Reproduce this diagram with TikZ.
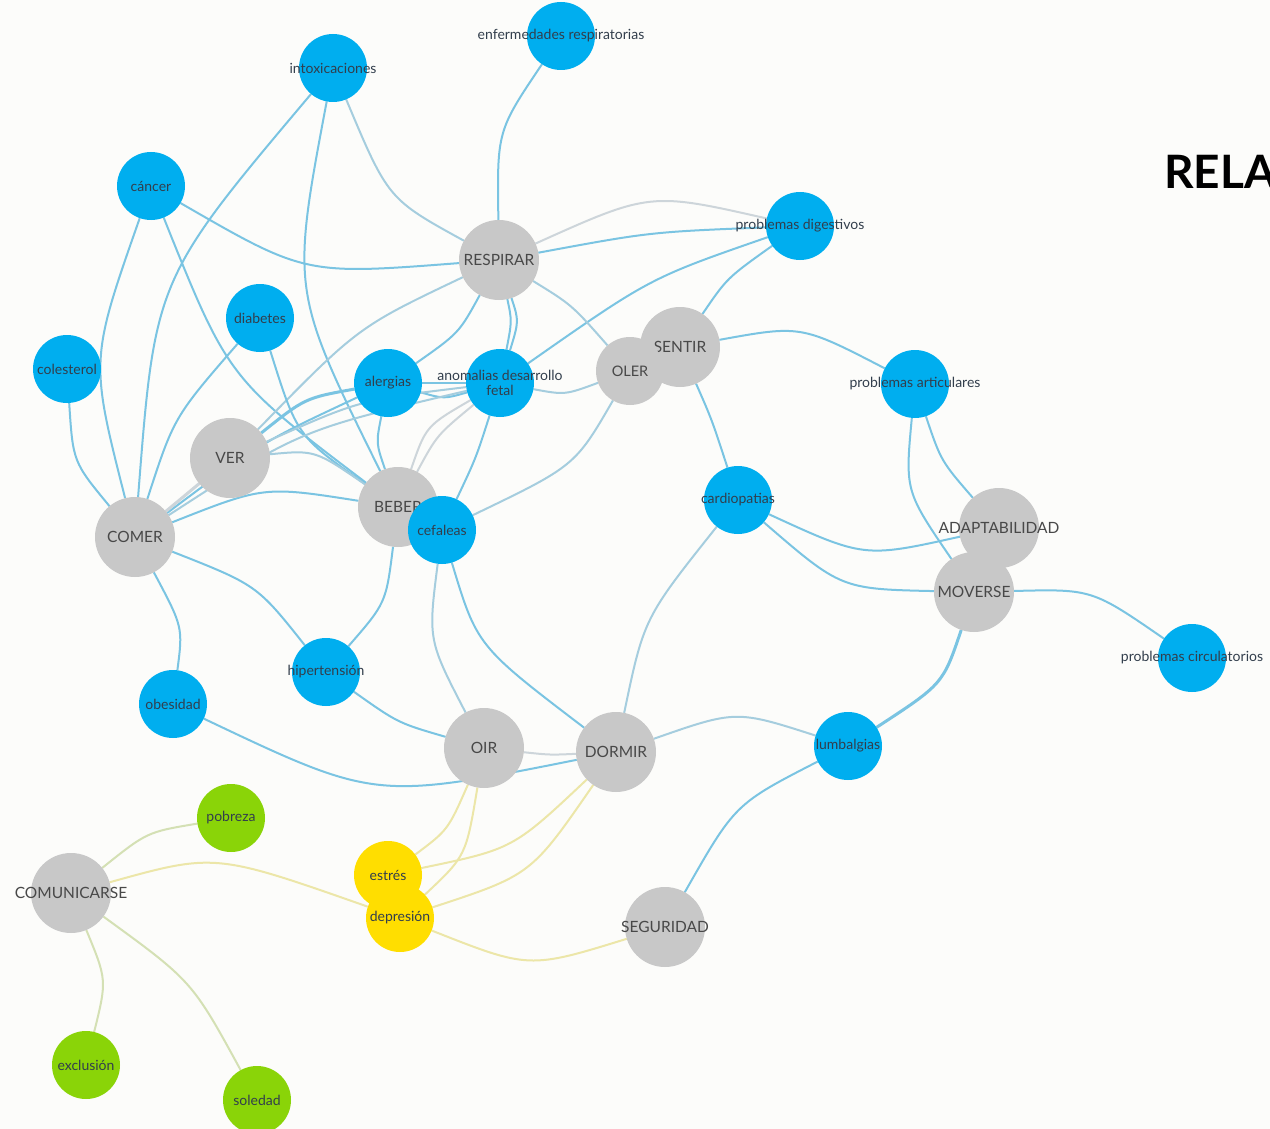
\documentclass[tikz,border=0pt]{standalone}
\usepackage{fontspec}
\setmainfont{Lato}
\pgfdeclarelayer{bg}
\pgfdeclarelayer{edges}
\pgfsetlayers{bg,edges,main}
\definecolor{pagebg}{RGB}{252,252,250}
\definecolor{nblue}{RGB}{0,174,239}
\definecolor{ngray}{RGB}{200,200,200}
\definecolor{ngreen}{RGB}{138,212,8}
\definecolor{nyellow}{RGB}{255,222,0}
\definecolor{cEb}{RGB}{122,196,226}
\definecolor{cEbg}{RGB}{165,205,222}
\definecolor{cEg}{RGB}{205,213,218}
\definecolor{cEy}{RGB}{236,230,168}
\definecolor{cEgr}{RGB}{212,224,180}
\definecolor{lblblue}{RGB}{50,62,76}
\definecolor{lblgray}{RGB}{72,72,72}
\tikzset{
  nd/.style={circle, inner sep=0pt, outer sep=0pt, draw=none},
  bnode/.style={nd, fill=nblue, minimum size=68pt},
  ynode/.style={nd, fill=nyellow, minimum size=68pt},
  gnode/.style={nd, fill=ngreen, minimum size=68pt},
  cnode/.style={nd, fill=ngray, minimum size=80pt},
  slbl/.style={font=\fontsize{14}{15}\selectfont, text=lblblue, inner sep=0pt, align=center},
  clbl/.style={font=\fontsize{15.5}{17}\selectfont, text=lblgray, inner sep=0pt},
  eb/.style={draw=cEb, line width=2pt},
  ebg/.style={draw=cEbg, line width=2pt},
  eg/.style={draw=cEg, line width=2pt},
  ey/.style={draw=cEy, line width=2pt},
  egr/.style={draw=cEgr, line width=2pt},
}
\begin{document}
\begin{tikzpicture}[x=1pt,y=-1pt]
\useasboundingbox (0,0) rectangle (1270,1129);
\clip (0,0) rectangle (1270,1129);
\begin{pgfonlayer}{bg}
\fill[pagebg] (0,0) rectangle (1270,1129);
\end{pgfonlayer}

% nodes
\node[bnode, label={[slbl]center:enfermedades respiratorias}] (enf) at (561,36) {};
\node[bnode, label={[slbl]center:intoxicaciones}] (intox) at (333,68) {};
\node[bnode, label={[slbl]center:cáncer}] (cancer) at (151,186) {};
\node[cnode, label={[clbl]center:RESPIRAR}] (respirar) at (499,260) {};
\node[bnode, label={[slbl]center:problemas digestivos}] (probdig) at (800,226) {};
\node[bnode, label={[slbl]center:diabetes}] (diabetes) at (260,318) {};
\node[bnode, label={[slbl]center:colesterol}] (colesterol) at (67,369) {};
\node[bnode, label={[slbl]center:alergias}] (alergias) at (388,383) {};
\node[bnode, label={[slbl]center:anomalias desarrollo\\fetal}] (anomalias) at (500,383) {};
\node[cnode, label={[clbl]center:SENTIR}] (sentir) at (680,347) {};
\node[cnode, minimum size=68pt, label={[clbl, font=\fontsize{14.5}{16}\selectfont]center:OLER}] (oler) at (630,371) {};
\node[bnode, label={[slbl]center:problemas articulares}] (probart) at (915,384) {};
\node[cnode, label={[clbl]center:VER}] (ver) at (230,458) {};
\node[cnode, label={[clbl]center:COMER}] (comer) at (135,537) {};
\node[cnode, label={[clbl]center:BEBER}] (beber) at (398,507) {};
\node[bnode, label={[slbl]center:cefaleas}] (cefaleas) at (442,530) {};
\node[bnode, label={[slbl]center:cardiopatias}] (cardio) at (738,500) {};
\node[cnode, label={[clbl]center:ADAPTABILIDAD}] (adapt) at (999,528) {};
\node[cnode, label={[clbl]center:MOVERSE}] (moverse) at (974,592) {};
\node[bnode, label={[slbl]center:problemas circulatorios}] (probcirc) at (1192,658) {};
\node[bnode, label={[slbl]center:hipertensión}] (hiper) at (326,672) {};
\node[bnode, label={[slbl]center:obesidad}] (obesidad) at (173,704) {};
\node[cnode, label={[clbl]center:OIR}] (oir) at (484,748) {};
\node[cnode, label={[clbl]center:DORMIR}] (dormir) at (616,752) {};
\node[bnode, label={[slbl]center:lumbalgias}] (lumbalgias) at (848,746) {};
\node[gnode, label={[slbl]center:pobreza}] (pobreza) at (231,818) {};
\node[ynode, label={[slbl]center:estrés}] (estres) at (388,875) {};
\node[ynode, label={[slbl]center:depresión}] (depresion) at (400,918) {};
\node[cnode, label={[clbl]center:COMUNICARSE}] (comunicarse) at (71,893) {};
\node[cnode, label={[clbl]center:SEGURIDAD}] (seguridad) at (665,927) {};
\node[gnode, label={[slbl]center:exclusión}] (exclusion) at (86,1065) {};
\node[gnode, label={[slbl]center:soledad}] (soledad) at (257,1100) {};
\node[anchor=west, inner sep=0pt, font=\fontsize{46}{50}\selectfont\bfseries] (title) at (1164,172) {RELA};

% connectors
\begin{pgfonlayer}{edges}
\draw[eb] (intox) .. controls (155,279) .. (comer);
\draw[eb] (intox) .. controls (291,291) .. (beber);
\draw[ebg] (intox) .. controls (388,199) .. (respirar);
\draw[eb] (enf) .. controls (497,131) .. (respirar);
\draw[eb] (cancer) .. controls (305,275) .. (respirar);
\draw[eb] (cancer) .. controls (90,360) .. (comer);
\draw[eb] (cancer) .. controls (228,378) .. (beber);
\draw[eg] (respirar) .. controls (650,192) .. (probdig);
\draw[eb] (respirar) .. controls (650,232) .. (probdig);
\draw[eb] (probdig) .. controls (650,278) .. (anomalias);
\draw[eb] (probdig) .. controls (727,278) .. (sentir);
\draw[ebg] (respirar) .. controls (572,305) .. (oler);
\draw[ebg] (respirar) .. controls (358,327) .. (ver);
\draw[eb] (respirar) .. controls (459,333) .. (alergias);
\draw[eb] (respirar) .. controls (512,321) .. (anomalias);
\draw[eb] (respirar) .. controls (519,321) .. (anomalias);
\draw[eb] (diabetes) .. controls (174,417) .. (comer);
\draw[eb] (diabetes) .. controls (297,436) .. (beber);
\draw[eb] (colesterol) .. controls (73,462) .. (comer);
\draw[ebg] (ver) .. controls (315,450) .. (beber);
\draw[eb] (comer) .. controls (264,486) .. (beber);
\draw[eb] (alergias) .. controls (376,443) .. (beber);
\draw[eg] (anomalias) .. controls (437,435) .. (beber);
\draw[eg] (anomalias) .. controls (426,426) .. (beber);
\draw[eb] (anomalias) .. controls (476,458) .. (cefaleas);
\draw[ebg] (oler) .. controls (575,466) .. (cefaleas);
\draw[ebg] (oler) .. controls (565,395) .. (anomalias);
\draw[eb] (sentir) .. controls (801,325) .. (probart);
\draw[eb] (sentir) .. controls (712,420) .. (cardio);
\draw[eb] (probart) .. controls (941,461) .. (adapt);
\draw[eb] (probart) .. controls (905,491) .. (moverse);
\draw[eb] (cardio) .. controls (864,558) .. (adapt);
\draw[eb] (cardio) .. controls (841,589) .. (moverse);
\draw[ebg] (cardio) .. controls (644,618) .. (dormir);
\draw[eb] (moverse) .. controls (1092,589) .. (probcirc);
\draw[eb, line width=3pt] (moverse) .. controls (943,684) .. (lumbalgias);
\draw[ebg] (dormir) .. controls (736,710) .. (lumbalgias);
\draw[eb] (lumbalgias) .. controls (735,804) .. (seguridad);
\draw[ebg] (cefaleas) .. controls (428,640) .. (oir);
\draw[eb] (cefaleas) .. controls (477,646) .. (dormir);
\draw[eb] (hiper) .. controls (398,723) .. (oir);
\draw[eb] (obesidad) .. controls (375,800) .. (dormir);
\draw[eb] (comer) .. controls (183,627) .. (obesidad);
\draw[eb] (comer) .. controls (257,585) .. (hiper);
\draw[eb] (beber) .. controls (386,603) .. (hiper);
\draw[eg] (oir) .. controls (550,755) .. (dormir);
\draw[ey] (oir) .. controls (448,830) .. (estres);
\draw[ey] (oir) .. controls (466,856) .. (depresion);
\draw[ey] (dormir) .. controls (513,849) .. (estres);
\draw[ey] (dormir) .. controls (531,875) .. (depresion);
\draw[ey] (comunicarse) .. controls (215,853) .. (depresion);
\draw[ey] (depresion) .. controls (529,969) .. (seguridad);
\draw[egr] (comunicarse) .. controls (147,832) .. (pobreza);
\draw[egr] (comunicarse) .. controls (107,980) .. (exclusion);
\draw[egr] (comunicarse) .. controls (192,981) .. (soledad);
\draw[eb] (alergias) -- (anomalias);
\draw[eb] (alergias) .. controls (444,399) .. (anomalias);
\draw[eb, line width=3pt] (alergias) .. controls (305,398) .. (ver);
\draw[eb] (alergias) .. controls (262,442) .. (comer);
\draw[ebg] (anomalias) .. controls (360,400) .. (ver);
\draw[ebg] (anomalias) .. controls (300,430) .. (comer);
\draw[eg, line width=3pt] (ver) -- (comer);
\end{pgfonlayer}
\end{tikzpicture}
\end{document}
